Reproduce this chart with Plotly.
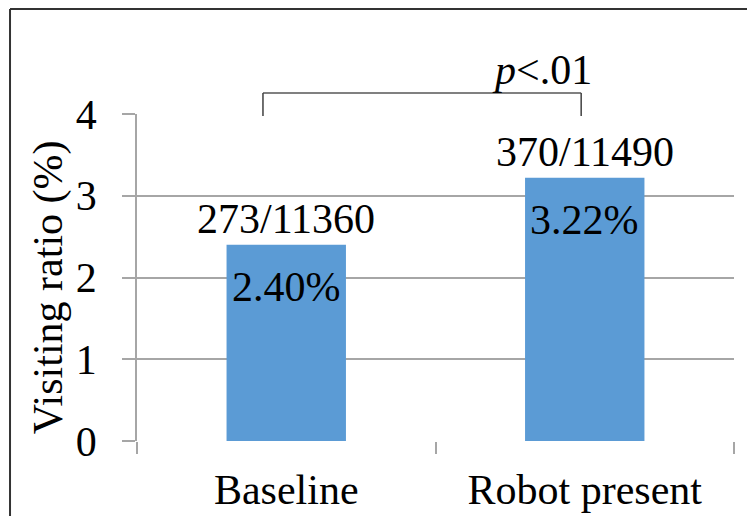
import plotly.graph_objects as go

# data
categories = ["Baseline", "Robot present"]
ratios = [2.40, 3.22]
counts = ["273/11360", "370/11490"]
pct_labels = ["2.40%", "3.22%"]
y_ticks = [0, 1, 2, 3, 4]

FONT = "Times New Roman, Liberation Serif, DejaVu Serif, serif"
FS = 42
BAR_COLOR = "#5B9BD5"
GRID = "#A6A6A6"

fig = go.Figure()

fig.add_trace(go.Bar(
    x=categories,
    y=ratios,
    width=0.4,
    marker=dict(color=BAR_COLOR, line=dict(width=0)),
    showlegend=False,
    hoverinfo='skip'
))

annotations = []
for cat, val, cnt, pct in zip(categories, ratios, counts, pct_labels):
    annotations.append(dict(
        x=cat, y=val, xref='x', yref='y',
        text=cnt, showarrow=False,
        yanchor='bottom', yshift=1,
        font=dict(family=FONT, size=FS, color='black')
    ))
    annotations.append(dict(
        x=cat, y=val, xref='x', yref='y',
        text=pct, showarrow=False,
        yanchor='middle', yshift=-42,
        font=dict(family=FONT, size=FS, color='black')
    ))

# significance label
annotations.append(dict(
    x=0.678, y=1.135, xref='paper', yref='paper',
    text="<i>p</i>&lt;.01", showarrow=False,
    xanchor='center', yanchor='middle',
    font=dict(family=FONT, size=FS, color='black')
))

# y axis title
annotations.append(dict(
    x=-0.147, y=0.471, xref='paper', yref='paper',
    text="Visiting ratio (%)", showarrow=False, textangle=-90,
    xanchor='center', yanchor='middle',
    font=dict(family=FONT, size=FS, color='black')
))

shapes = [
    # bracket
    dict(type='line', xref='paper', yref='paper', x0=0.211, x1=0.744, y0=1.064, y1=1.064,
         line=dict(color='#808080', width=2)),
    dict(type='line', xref='paper', yref='paper', x0=0.211, x1=0.211, y0=1.064, y1=0.994,
         line=dict(color='#404040', width=1.5)),
    dict(type='line', xref='paper', yref='paper', x0=0.744, x1=0.744, y0=1.064, y1=0.994,
         line=dict(color='#404040', width=1.5)),
    # frame border
    dict(type='line', xref='paper', yref='paper', x0=-0.2127, x1=1.1, y0=1.321, y1=1.321,
         line=dict(color='#333333', width=2)),
    dict(type='line', xref='paper', yref='paper', x0=-0.2127, x1=-0.2127, y0=1.321, y1=-0.3,
         line=dict(color='#333333', width=2)),
]

fig.update_layout(
    width=747,
    height=516,
    margin=dict(l=137, r=13, t=114, b=75),
    plot_bgcolor='white',
    paper_bgcolor='white',
    font=dict(family=FONT, size=FS, color='black'),
    annotations=annotations,
    shapes=shapes,
    xaxis=dict(
        type='category',
        range=[-0.5, 1.5],
        automargin=False,
        showgrid=False,
        zeroline=False,
        showline=False,
        ticks='outside',
        tickson='boundaries',
        ticklen=12,
        tickcolor=GRID,
        tickwidth=1.5,
        ticklabelstandoff=20,
        tickfont=dict(family=FONT, size=FS, color='black'),
    ),
    yaxis=dict(
        range=[0, 4],
        tickvals=y_ticks,
        automargin=False,
        showgrid=True,
        gridcolor=GRID,
        gridwidth=1.5,
        zeroline=False,
        showline=True,
        linecolor=GRID,
        linewidth=1.5,
        ticks='outside',
        ticklen=13,
        tickcolor=GRID,
        tickwidth=1.5,
        ticklabelstandoff=17,
        tickfont=dict(family=FONT, size=FS, color='black'),
    ),
)

fig.write_html("out.html", config={'displayModeBar': False},
               post_script="document.body.style.margin='0';")
